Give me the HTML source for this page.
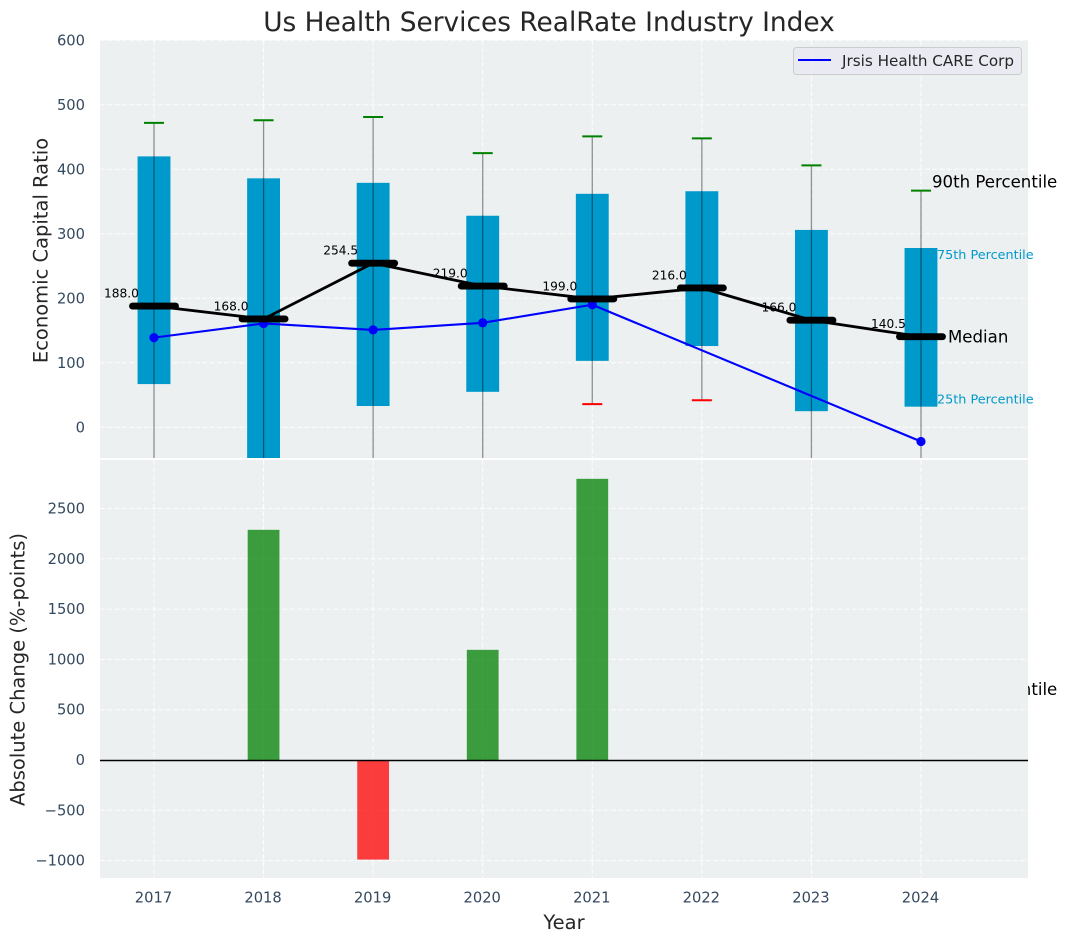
<!DOCTYPE html>
<html lang="en">
<head>
<meta charset="utf-8">
<title>Us Health Services RealRate Industry Index</title>
<style>
html,body{margin:0;padding:0;background:#fff;width:1067px;height:942px;overflow:hidden}
svg{display:block;font-family:"DejaVu Sans","Liberation Sans",sans-serif}
</style>
</head>
<body>
<svg id="chart" xmlns="http://www.w3.org/2000/svg" width="1067" height="942" viewBox="0 0 1067 942">
<defs><clipPath id="top-clip"><rect x="100" y="40" width="928" height="418"/></clipPath></defs>
</svg>
<script>
const years = [2017, 2018, 2019, 2020, 2021, 2022, 2023, 2024];
const p90 = [472, 476, 481, 425, 451, 448, 406, 367];
const p75 = [420, 386, 379, 328, 362, 366, 306, 278];
const medians = [188.0, 168.0, 254.5, 219.0, 199.0, 216.0, 166.0, 140.5];
const p25 = [67, -70, 33, 55, 103, 126, 25, 32];
const p10 = [-120, -150, -110, -100, 36, 42, -90, -80];
const companyYears = [2017, 2018, 2019, 2020, 2021, 2024];
const companyValues = [139, 161, 151, 162, 190, -22];
const changeYears = [2018, 2019, 2020, 2021];
const changeValues = [2288, -990, 1095, 2795];
const topTicks = [0, 100, 200, 300, 400, 500, 600];
const bottomTicks = [-1000, -500, 0, 500, 1000, 1500, 2000, 2500];

const svg = document.getElementById('chart');
const NS = 'http://www.w3.org/2000/svg';
const X = v => 154 + (v - 2017) * 109.57;
const YT = v => 427.3 - v * 0.645;
const YB = v => 760 - v * 0.1006;
const L = 100, R = 1028, TT = 40, TB = 458, BT = 460, BB = 878;
const BOX = 0.3, BAR = 0.29;
const TICK = '#34495e', INK = '#262626';
const TICK_SIZE = 14.7, AXIS_SIZE = 19.5, NOTE_SIZE = 16.6, SMALL_SIZE = 12.8;

function make(tag, attrs, parent) {
  const el = document.createElementNS(NS, tag);
  for (const k in attrs) el.setAttribute(k, attrs[k]);
  (parent || svg).appendChild(el);
  return el;
}
function label(str, attrs, parent) {
  const el = make('text', attrs, parent);
  el.textContent = str;
  return el;
}
const gridStyle = {stroke: '#fff', 'stroke-width': 1, 'stroke-dasharray': '5.1 2.2', 'stroke-opacity': 0.9};

/* top axes */
let el = make('rect', {x: L, y: TT, width: R - L, height: TB - TT, fill: '#ecf0f1'});



topTicks.forEach(t => {
  let g = make('line', Object.assign({x1: L, x2: R, y1: YT(t), y2: YT(t)}, gridStyle));
  
  
  let tl = label(t, {x: 85, y: YT(t) + 5, 'text-anchor': 'end', 'font-size': TICK_SIZE, fill: TICK});
  
  
});
years.forEach(yr => {
  let g = make('line', Object.assign({x1: X(yr), x2: X(yr), y1: TT, y2: TB}, gridStyle));
  
  
});

const plot = make('g', {'clip-path': 'url(#top-clip)'});



years.forEach((yr, i) => {
  const cx = X(yr), hw = BOX * 109.57 / 2;
  let box = make('rect', {x: cx - hw, y: YT(p75[i]), width: hw * 2, height: YT(p25[i]) - YT(p75[i]), fill: '#0099cc'}, plot);
  
  
  let w = make('line', {x1: cx, x2: cx, y1: YT(p90[i]), y2: YT(p10[i]), stroke: '#000', 'stroke-opacity': 0.42, 'stroke-width': 1.3}, plot);
  
  
  let cap = make('line', {x1: cx - 10, x2: cx + 10, y1: YT(p90[i]), y2: YT(p90[i]), stroke: 'green', 'stroke-width': 2}, plot);
  
  
  let low = make('line', {x1: cx - 10, x2: cx + 10, y1: YT(p10[i]), y2: YT(p10[i]), stroke: 'red', 'stroke-width': 2}, plot);
  
  
});

let medLine = make('polyline', {points: years.map((yr, i) => X(yr) + ',' + YT(medians[i])).join(' '), fill: 'none', stroke: '#000', 'stroke-width': 2.8}, plot);



let coLine = make('polyline', {points: companyYears.map((yr, i) => X(yr) + ',' + YT(companyValues[i])).join(' '), fill: 'none', stroke: '#0000ff', 'stroke-width': 2.1}, plot);


companyYears.forEach((yr, i) => {
  let p = make('circle', {cx: X(yr), cy: YT(companyValues[i]), r: 4.6, fill: '#0000ff'}, plot);
  
  
});

years.forEach((yr, i) => {
  const cx = X(yr), my = YT(medians[i]);
  let m = make('line', {x1: cx - 21.5, x2: cx + 21.5, y1: my, y2: my, stroke: '#000', 'stroke-width': 6.9, 'stroke-linecap': 'round'}, plot);
  
  
  let t = label(medians[i].toFixed(1), {x: cx - 32.5, y: my - 8.5, 'text-anchor': 'middle', 'font-size': 12.2, fill: '#000'});
  
  
});

/* percentile annotations on final year */
const last = years.length - 1;
let a90 = label('90th Percentile', {x: X(2024) + 11, y: YT(p90[last]) - 3, 'font-size': NOTE_SIZE, fill: '#000'});


let a75 = label('75th Percentile', {x: X(2024) + 16, y: YT(p75[last]) + 11, 'font-size': SMALL_SIZE, fill: '#0099cc'});


let aMed = label('Median', {x: X(2024) + 27, y: YT(medians[last]) + 6, 'font-size': NOTE_SIZE, fill: '#000'});


let a25 = label('25th Percentile', {x: X(2024) + 16, y: YT(p25[last]) - 3, 'font-size': SMALL_SIZE, fill: '#0099cc'});


let a10 = label('10th Percentile', {x: X(2024) + 11, y: YT(p10[last]) + 216, 'font-size': NOTE_SIZE, fill: '#000'});



/* bottom axes (covers most of the 10th percentile annotation) */
el = make('rect', {x: L, y: BT, width: R - L, height: BB - BT, fill: '#ecf0f1'});



bottomTicks.forEach(t => {
  let g = make('line', Object.assign({x1: L, x2: R, y1: YB(t), y2: YB(t)}, gridStyle));
  
  
  let tl = label(String(t).replace('-', '\u2212'), {x: 85, y: YB(t) + 5, 'text-anchor': 'end', 'font-size': TICK_SIZE, fill: TICK});
  
  
});
years.forEach(yr => {
  let g = make('line', Object.assign({x1: X(yr), x2: X(yr), y1: BT, y2: BB}, gridStyle));
  
  
  let tl = label(yr, {x: X(yr) - 0.5, y: 902.5, 'text-anchor': 'middle', 'font-size': TICK_SIZE, fill: TICK});
  
  
});

changeYears.forEach((yr, i) => {
  const v = changeValues[i], hw = BAR * 109.57 / 2;
  let b = make('rect', {x: X(yr) - hw, y: Math.min(YB(v), YB(0)), width: hw * 2, height: Math.abs(YB(v) - YB(0)), fill: v >= 0 ? '#008000' : '#ff0000', 'fill-opacity': 0.75});
  
  
});

let zero = make('line', {x1: L, x2: R, y1: YB(0) + 0.5, y2: YB(0) + 0.5, stroke: '#000', 'stroke-width': 1.4});



/* titles */
let title = label('Us Health Services RealRate Industry Index', {x: 549, y: 31, 'text-anchor': 'middle', 'font-size': 26.4, fill: INK});


let yt1 = label('Economic Capital Ratio', {transform: 'translate(47.5,250.5) rotate(-90)', 'text-anchor': 'middle', 'font-size': AXIS_SIZE, fill: INK});


let yt2 = label('Absolute Change (%-points)', {transform: 'translate(24.5,669.5) rotate(-90)', 'text-anchor': 'middle', 'font-size': AXIS_SIZE, fill: INK});


let xt = label('Year', {x: 564, y: 929, 'text-anchor': 'middle', 'font-size': AXIS_SIZE, fill: INK});



/* legend */
const lg = make('g', {});


let lb = make('rect', {x: 793.5, y: 47.5, width: 228, height: 27, rx: 3, fill: '#eaeaf2', 'fill-opacity': 0.8, stroke: '#ccc', 'stroke-width': 1}, lg);


let ll = make('line', {x1: 798, x2: 831, y1: 60, y2: 60, stroke: '#0000ff', 'stroke-width': 2.1}, lg);


let lt = label('Jrsis Health CARE Corp', {x: 842, y: 66, 'font-size': 15.2, fill: INK}, lg);


</script>
</body>
</html>
